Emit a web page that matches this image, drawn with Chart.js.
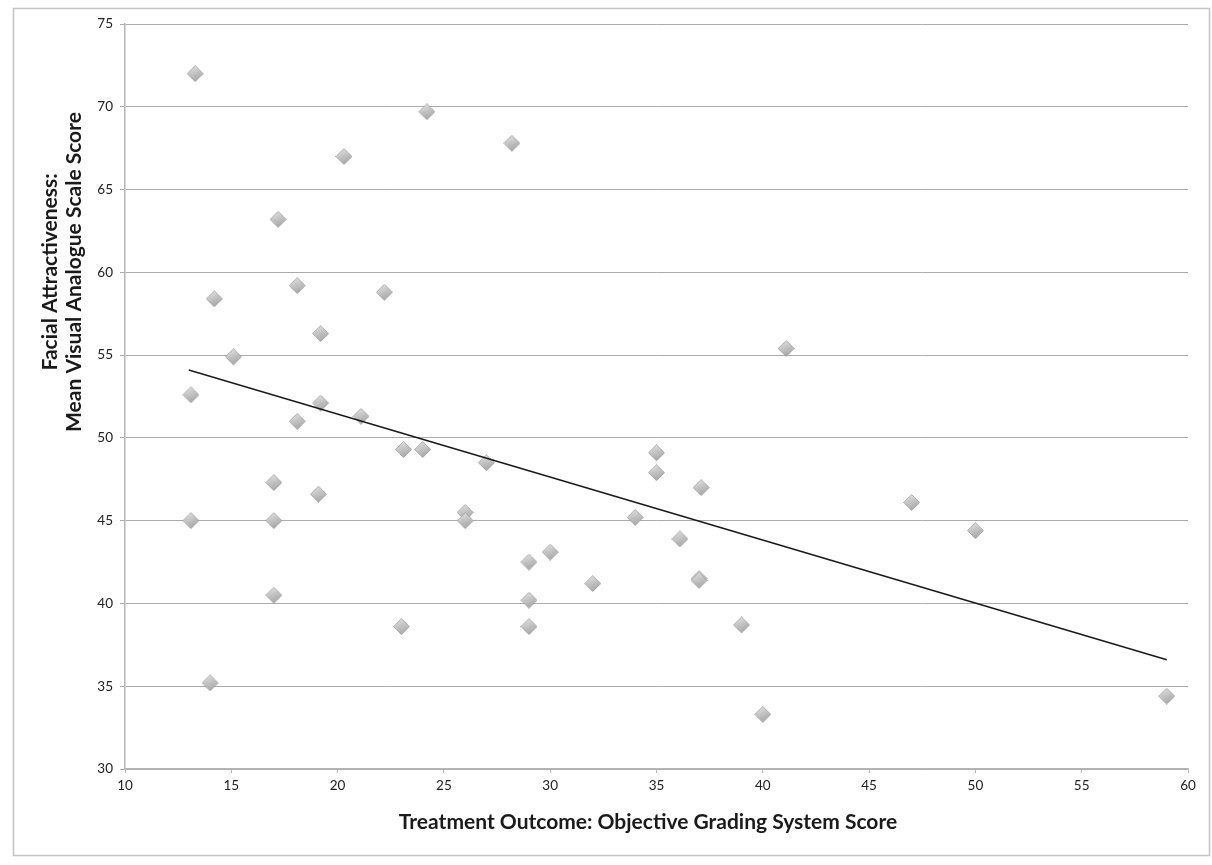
<!DOCTYPE html>
<html>
<head>
<meta charset="utf-8">
<script src="https://cdn.jsdelivr.net/npm/chart.js@4.4.1/dist/chart.umd.min.js"></script>
<style>
  html, body { margin: 0; padding: 0; background: #ffffff; }
  #wrap { width: 1212px; height: 865px; position: relative; }
</style>
</head>
<body>
<div id="wrap"><canvas id="c" width="1212" height="865"></canvas></div>
<script>
// ---- data ----
const xValues = [13.3, 14.2, 15.1, 13.1, 13.1, 14.0, 17.2, 18.1, 19.2, 18.1, 19.2, 17.0, 17.0, 19.1, 17.0,
                 20.3, 22.2, 21.1, 23.1, 24.0, 23.0, 24.2, 28.2, 27.0, 26.0, 26.0, 29.0, 30.0, 32.0, 29.0,
                 29.0, 35.0, 35.0, 37.1, 34.0, 36.1, 37.0, 37.0, 39.0, 40.0, 41.1, 47.0, 50.0, 59.0];
const yValues = [72.0, 58.4, 54.9, 52.6, 45.0, 35.2, 63.2, 59.2, 56.3, 51.0, 52.1, 47.3, 45.0, 46.6, 40.5,
                 67.0, 58.8, 51.3, 49.3, 49.3, 38.6, 69.7, 67.8, 48.5, 45.5, 45.0, 42.5, 43.1, 41.2, 40.2,
                 38.6, 49.1, 47.9, 47.0, 45.2, 43.9, 41.5, 41.4, 38.7, 33.3, 55.4, 46.1, 44.4, 34.4];
const trendX = [13.0, 59.0];
const trendY = [54.1, 36.6];
const xTicks = [10, 15, 20, 25, 30, 35, 40, 45, 50, 55, 60];
const yTicks = [30, 35, 40, 45, 50, 55, 60, 65, 70, 75];
const xTitle = 'Treatment Outcome: Objective Grading System Score';
const yTitleLines = ['Facial Attractiveness:', 'Mean Visual Analogue Scale Score'];

// ---- diamond marker with a soft gradient ----
function makeDiamond(size) {
  const cv = document.createElement('canvas');
  cv.width = size; cv.height = size;
  const g = cv.getContext('2d');
  const h = size / 2;
  g.beginPath();
  g.moveTo(h, 0.5); g.lineTo(size - 0.5, h); g.lineTo(h, size - 0.5); g.lineTo(0.5, h); g.closePath();
  const grad = g.createLinearGradient(size * 0.2, 0, size * 0.6, size);
  grad.addColorStop(0, '#e6e6e6');
  grad.addColorStop(0.45, '#c6c6c6');
  grad.addColorStop(1, '#a4a4a4');
  g.fillStyle = grad;
  g.fill();
  g.strokeStyle = 'rgba(150,150,150,0.7)';
  g.lineWidth = 1;
  g.stroke();
  return cv;
}
const diamond = makeDiamond(17);

const points = xValues.map((x, i) => ({ x: x, y: yValues[i] }));
const trend = trendX.map((x, i) => ({ x: x, y: trendY[i] }));

const PLOT_LEFT = 125, PLOT_RIGHT = 1188, PLOT_TOP = 24, PLOT_BOTTOM = 769;

const decor = {
  id: 'decor',
  beforeDraw(chart) {
    const ctx = chart.ctx;
    ctx.save();
    ctx.fillStyle = '#ffffff';
    ctx.fillRect(0, 0, chart.width, chart.height);
    ctx.strokeStyle = '#c4c4c4';
    ctx.lineWidth = 1.5;
    ctx.strokeRect(13.5, 8.5, 1196, 847);
    ctx.restore();
  },
  afterDraw(chart) {
    const ctx = chart.ctx;
    ctx.save();
    ctx.fillStyle = '#1a1a1a';
    ctx.font = 'bold 21px Lato';
    ctx.textAlign = 'center';
    ctx.textBaseline = 'middle';
    ctx.fillText(xTitle, 648, 822);
    ctx.save();
    ctx.translate(50, 272);
    ctx.rotate(-Math.PI / 2);
    ctx.fillText(yTitleLines[0], 0, 0);
    ctx.restore();
    ctx.save();
    ctx.translate(74, 272);
    ctx.rotate(-Math.PI / 2);
    ctx.fillText(yTitleLines[1], 0, 0);
    ctx.restore();
    ctx.restore();
  }
};

new Chart(document.getElementById('c'), {
  type: 'scatter',
  data: {
    datasets: [
      {
        label: 'Scores',
        data: points,
        pointStyle: diamond,
        pointRadius: 8,
        order: 2
      },
      {
        label: 'Linear trend',
        type: 'line',
        data: trend,
        borderColor: '#1a1a1a',
        borderWidth: 1.5,
        pointRadius: 0,
        showLine: true,
        fill: false,
        order: 1
      }
    ]
  },
  options: {
    responsive: false,
    animation: false,
    layout: { padding: { left: 0, right: 1212 - PLOT_RIGHT, top: PLOT_TOP, bottom: 0 } },
    plugins: { legend: { display: false }, tooltip: { enabled: false } },
    scales: {
      x: {
        type: 'linear',
        min: 10, max: 60,
        afterBuildTicks(scale) { scale.ticks = xTicks.map(v => ({ value: v })); },
        afterFit(scale) { scale.height = 865 - PLOT_BOTTOM; },
        grid: { display: true, drawOnChartArea: false, drawTicks: true, tickLength: 4, color: '#b5b5b5' },
        border: { display: true, color: '#b5b5b5', width: 1.5 },
        ticks: { color: '#222', font: { family: 'Lato', size: 13.5 }, padding: 5, maxRotation: 0, autoSkip: false }
      },
      y: {
        type: 'linear',
        min: 30, max: 75,
        afterBuildTicks(scale) { scale.ticks = yTicks.map(v => ({ value: v })); },
        afterFit(scale) { scale.width = PLOT_LEFT; },
        grid: { color: '#ababab', lineWidth: 1, drawTicks: true, tickLength: 5 },
        border: { display: true, color: '#b5b5b5', width: 1.5 },
        ticks: { color: '#222', font: { family: 'Lato', size: 13.5 }, padding: 7, autoSkip: false }
      }
    }
  },
  plugins: [decor]
});
</script>
</body>
</html>
